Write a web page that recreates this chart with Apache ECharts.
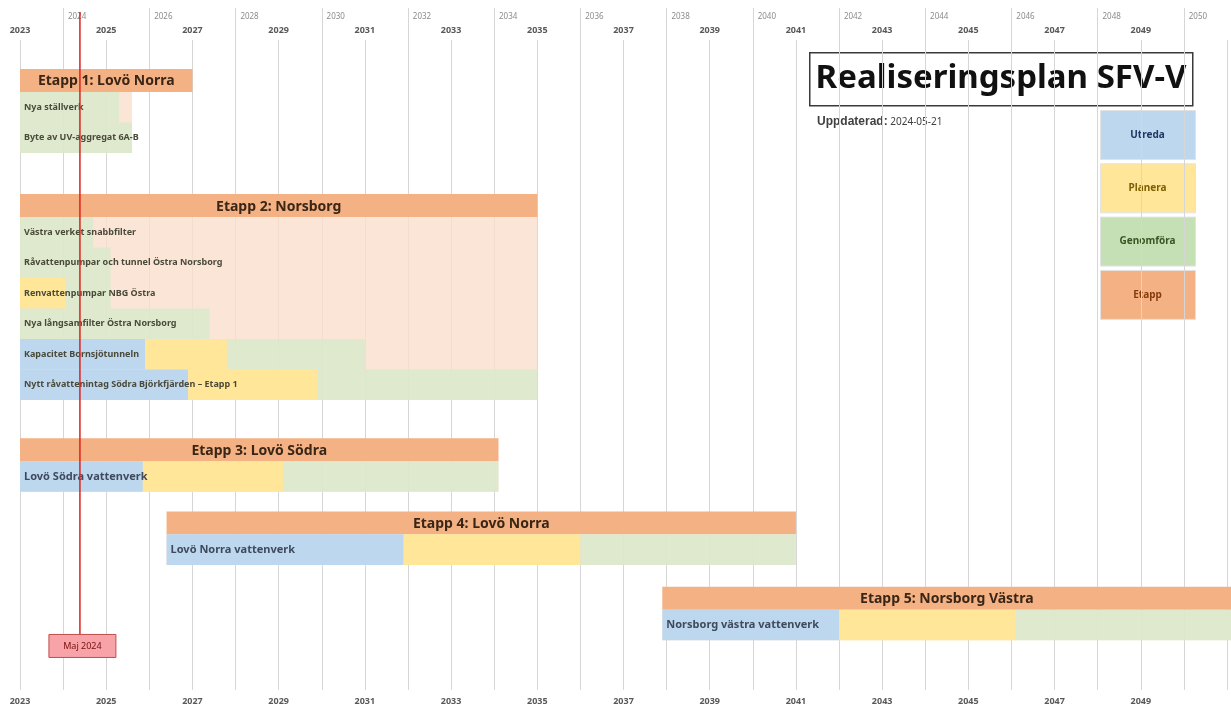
<!DOCTYPE html>
<html>
<head>
<meta charset="utf-8">
<title>Realiseringsplan SFV-V</title>
<script src="https://cdn.jsdelivr.net/npm/echarts@6/dist/echarts.min.js"></script>
<style>
    html, body { margin: 0; padding: 0; background: #fff; }
    #chart { width: 1231px; height: 711px; }
</style>
</head>
<body>
<div id="chart"></div>
<script>
    // tidsaxel (år)
    var axisMin = 2023;
    var axisMax = 2051;
    var today = 2024.39;
    var todayLabel = "Maj 2024";
    var updated = "2024-05-21";

    // etapper
    var stageNames = ["Etapp 1: Lovö Norra", "Etapp 2: Norsborg", "Etapp 3: Lovö Södra", "Etapp 4: Lovö Norra", "Etapp 5: Norsborg Västra"];
    var stageStart = [2023, 2023, 2023, 2026.4, 2037.9];
    var stageEnd = [2027, 2035, 2034.1, 2041, 2051.1];
    var stageBgEnd = [2025.6, 2035, 2034.1, 2041, 2051.1];

    // delprojekt
    var taskNames = [
        "Nya ställverk",
        "Byte av UV-aggregat 6A-B",
        "Västra verket snabbfilter",
        "Råvattenpumpar och tunnel Östra Norsborg",
        "Renvattenpumpar NBG Östra",
        "Nya långsamfilter Östra Norsborg",
        "Kapacitet Bornsjötunneln",
        "Nytt råvattenintag Södra Björkfjärden – Etapp 1",
        "Lovö Södra vattenverk",
        "Lovö Norra vattenverk",
        "Norsborg västra vattenverk"
    ];
    var taskStage = [0, 0, 1, 1, 1, 1, 1, 1, 2, 3, 4];
    var taskStart = [2023, 2023, 2023, 2023, 2023, 2023, 2023, 2023, 2023, 2026.4, 2037.9];
    var utredaEnd = [2023, 2023, 2023, 2023, 2023, 2023, 2025.9, 2026.9, 2025.85, 2031.9, 2042];
    var planeraEnd = [2023, 2023, 2023, 2023, 2024.05, 2023, 2027.8, 2029.9, 2029.1, 2036, 2046.1];
    var genomforaEnd = [2025.3, 2025.6, 2024.7, 2025.1, 2025.1, 2027.4, 2031, 2035, 2034.1, 2041, 2051.1];

    var legendNames = ["Utreda", "Planera", "Genomföra", "Etapp"];

    var phaseColors = ["#bdd7ee", "#ffe699", "rgba(214,234,203,0.75)"];
    var legendColors = ["#bdd7ee", "#ffe699", "#c5e0b4", "#f4b183"];
    var legendText = ["#1f3864", "#7f6000", "#375623", "#843c0c"];

    // radlayout i radenheter
    var HEAD = 0.75, ROW = 1, LEAD = 0.95;
    var GAPS = [1.35, 1.25, 0.65, 0.72];
    var stageData = [], taskData = [];
    var y = LEAD;
    stageNames.forEach(function (name, s) {
        var hTop = y;
        y += HEAD;
        var bgTop = y;
        taskNames.forEach(function (t, i) {
            if (taskStage[i] !== s) return;
            taskData.push([taskStart[i], utredaEnd[i], planeraEnd[i], genomforaEnd[i], y, y + ROW, i]);
            y += ROW;
        });
        stageData.push([stageStart[s], stageEnd[s], stageBgEnd[s], hTop, bgTop, y, s]);
        y += GAPS[s] || 0;
    });
    var yMax = 21.3;

    var chart = echarts.init(document.getElementById("chart"));

    function renderStage(params, api) {
        var s = api.value(6);
        var h0 = api.coord([api.value(0), api.value(3)]);
        var h1 = api.coord([api.value(1), api.value(4)]);
        var b1 = api.coord([api.value(2), api.value(5)]);
        return {
            type: "group",
            children: [
                {
                    type: "rect",
                    shape: {x: h0[0], y: h1[1], width: b1[0] - h0[0], height: b1[1] - h1[1]},
                    style: {fill: "rgba(250,222,204,0.8)"}
                },
                {
                    type: "rect",
                    shape: {x: h0[0], y: h0[1], width: h1[0] - h0[0], height: h1[1] - h0[1]},
                    style: {fill: "#f4b183"}
                },
                {
                    type: "text",
                    x: (h0[0] + h1[0]) / 2,
                    y: (h0[1] + h1[1]) / 2 + 1,
                    style: {
                        text: stageNames[s],
                        align: "center",
                        verticalAlign: "middle",
                        fill: "#3a2616",
                        font: "bold 14px 'Noto Sans'"
                    }
                }
            ]
        };
    }

    function renderTask(params, api) {
        var i = api.value(6);
        var top = api.value(4), bottom = api.value(5);
        var edges = [api.value(0), api.value(1), api.value(2), api.value(3)];
        var children = [];
        for (var k = 0; k < 3; k++) {
            if (edges[k + 1] <= edges[k]) continue;
            var p0 = api.coord([edges[k], top]);
            var p1 = api.coord([edges[k + 1], bottom]);
            children.push({
                type: "rect",
                shape: {x: p0[0], y: p0[1], width: p1[0] - p0[0], height: p1[1] - p0[1]},
                style: {fill: phaseColors[k]}
            });
        }
        var big = taskStage[i] >= 2;
        var a = api.coord([edges[0], top]);
        var b = api.coord([edges[0], bottom]);
        children.push({
            type: "text",
            x: a[0] + 4,
            y: (a[1] + b[1]) / 2,
            style: {
                text: taskNames[i],
                align: "left",
                verticalAlign: "middle",
                fill: big ? "#3f4b5c" : "#4a4a3a",
                font: big ? "bold 11px 'Noto Sans'" : "bold 9px 'Noto Sans'"
            }
        });
        return {type: "group", children: children};
    }

    function renderToday(params, api) {
        var top = api.coord([api.value(0), -0.92]);
        var bot = api.coord([api.value(0), 19.48]);
        return {
            type: "group",
            children: [
                {
                    type: "line",
                    shape: {x1: top[0], y1: top[1], x2: bot[0], y2: bot[1]},
                    style: {stroke: "#e0201c", lineWidth: 1.5}
                },
                {
                    type: "rect",
                    shape: {x: bot[0] - 31, y: bot[1], width: 67, height: 23},
                    style: {fill: "#f7a3a8", stroke: "#c0504d", lineWidth: 1}
                },
                {
                    type: "text",
                    x: bot[0] + 2.5,
                    y: bot[1] + 12,
                    style: {
                        text: todayLabel,
                        align: "center",
                        verticalAlign: "middle",
                        fill: "#7a1010",
                        font: "9px 'Noto Sans'"
                    }
                }
            ]
        };
    }

    var labelColor = "#595959";
    var legendGraphics = [];
    legendNames.forEach(function (name, k) {
        legendGraphics.push({
            type: "rect",
            left: 1100,
            top: 110 + k * 53.3,
            shape: {width: 95, height: 49},
            style: {fill: legendColors[k], stroke: "#e3e3e3", lineWidth: 1}
        });
        legendGraphics.push({
            type: "text",
            x: 1147.5,
            y: 135 + k * 53.3,
            style: {
                text: name,
                align: "center",
                verticalAlign: "middle",
                fill: legendText[k],
                font: "bold 10px 'Noto Sans'"
            }
        });
    });

    chart.setOption({
        animation: false,
        grid: [
            {left: 20, right: 4, top: 40, bottom: 21},
            {left: 20, right: 4, top: 8, bottom: 21}
        ],
        xAxis: [
            {
                type: "value", gridIndex: 0, position: "bottom",
                min: axisMin, max: axisMax, interval: 1,
                axisLine: {show: false}, axisTick: {show: false},
                axisLabel: {
                    margin: 7,
                    color: labelColor, fontWeight: "bold", fontSize: 9, fontFamily: "Noto Sans",
                    formatter: function (v) { return (v % 2 === 1 && v < 2050) ? String(v) : ""; }
                },
                splitLine: {show: true, lineStyle: {color: ["#d6d6d6", "rgba(0,0,0,0)"], width: 1}}
            },
            {
                type: "value", gridIndex: 0, position: "top",
                min: axisMin, max: axisMax, interval: 1,
                axisLine: {show: false}, axisTick: {show: false}, splitLine: {show: false},
                axisLabel: {
                    margin: 5,
                    formatter: function (v) {
                        if (v >= 2051) return "";
                        return v % 2 === 1 ? "{b|" + v + "}" : "{s|" + v + "}";
                    },
                    rich: {
                        b: {color: labelColor, fontWeight: "bold", fontSize: 9, fontFamily: "Noto Sans"},
                        s: {color: "#8c8c8c", fontSize: 8, fontFamily: "Noto Sans", padding: [0, 0, 14, 28]}
                    }
                }
            },
            {
                type: "value", gridIndex: 1,
                min: axisMin, max: axisMax, interval: 1,
                axisLine: {show: false}, axisTick: {show: false}, axisLabel: {show: false},
                splitLine: {show: true, lineStyle: {color: ["rgba(0,0,0,0)", "#d6d6d6"], width: 1}}
            }
        ],
        yAxis: [
            {type: "value", gridIndex: 0, inverse: true, min: 0, max: yMax, show: false},
            {type: "value", gridIndex: 1, min: 0, max: 1, show: false}
        ],
        graphic: [
            {
                type: "rect", left: 809, top: 52,
                shape: {width: 383, height: 53},
                style: {fill: "#ffffff", stroke: "#3a3a3a", lineWidth: 1.5}
            },
            {
                type: "text", x: 1001, y: 79,
                style: {
                    text: "Realiseringsplan SFV-V",
                    align: "center", verticalAlign: "middle",
                    fill: "#111", font: "bold 33px 'Noto Sans'"
                }
            },
            {
                type: "text", x: 817, y: 122,
                style: {
                    text: "{b|Uppdaterad:} " + updated,
                    verticalAlign: "middle",
                    fill: "#404040", font: "10px 'Noto Sans'",
                    rich: {b: {fontWeight: "bold", fill: "#404040", font: "bold 10px 'Noto Sans'"}}
                }
            }
        ].concat(legendGraphics),
        series: [
            {
                type: "custom", name: "Etapp", xAxisIndex: 0, yAxisIndex: 0,
                renderItem: renderStage, data: stageData, silent: true
            },
            {
                type: "custom", name: "Delprojekt", xAxisIndex: 0, yAxisIndex: 0,
                renderItem: renderTask, data: taskData, silent: true
            },
            {
                type: "custom", name: "Idag", xAxisIndex: 0, yAxisIndex: 0, z: 5,
                renderItem: renderToday, data: [[today]], silent: true
            }
        ]
    });
</script>
</body>
</html>
